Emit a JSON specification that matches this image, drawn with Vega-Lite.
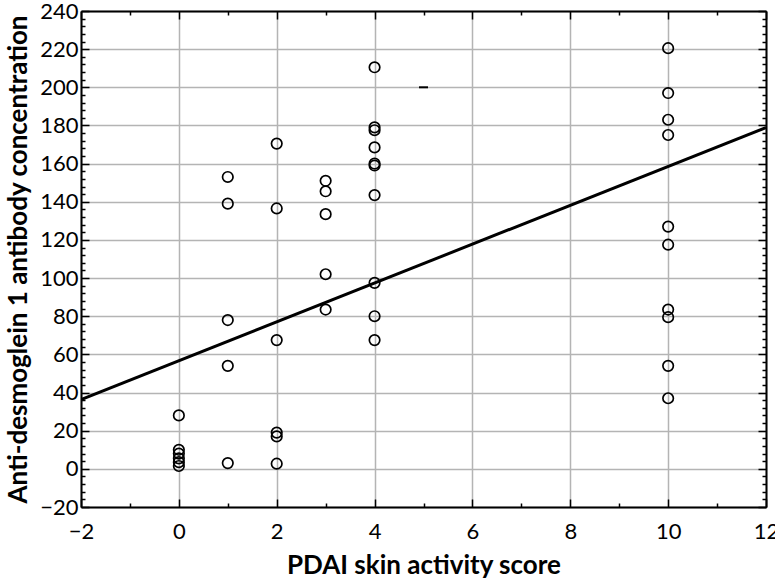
{
  "$schema": "https://vega.github.io/schema/vega-lite/v6.json",
  "width": 685,
  "height": 496,
  "autosize": {"type": "none"},
  "padding": {"left": 81, "top": 11, "right": 9, "bottom": 77},
  "background": "white",
  "config": {
    "view": {"stroke": null},
    "font": "Lato",
    "axis": {
      "domainColor": "black",
      "domainWidth": 2,
      "tickColor": "black",
      "tickWidth": 1.5,
      "gridColor": "#b4b4b4",
      "gridWidth": 1.5,
      "labelFont": "Lato",
      "labelFontSize": 22,
      "labelColor": "black",
      "titleFont": "Lato",
      "titleFontSize": 26,
      "titleFontWeight": "bold",
      "titleColor": "black"
    }
  },
  "datasets": {
    "obs": [
      {"score": 0, "conc": 28},
      {"score": 0, "conc": 10},
      {"score": 0, "conc": 8},
      {"score": 0, "conc": 5.5},
      {"score": 0, "conc": 3.5},
      {"score": 0, "conc": 1.5},
      {"score": 1, "conc": 153},
      {"score": 1, "conc": 139},
      {"score": 1, "conc": 78},
      {"score": 1, "conc": 54},
      {"score": 1, "conc": 3},
      {"score": 2, "conc": 170.5},
      {"score": 2, "conc": 136.5},
      {"score": 2, "conc": 67.5},
      {"score": 2, "conc": 19},
      {"score": 2, "conc": 17},
      {"score": 2, "conc": 2.7},
      {"score": 3, "conc": 151},
      {"score": 3, "conc": 145.5},
      {"score": 3, "conc": 133.5},
      {"score": 3, "conc": 102},
      {"score": 3, "conc": 83.5},
      {"score": 4, "conc": 210.5},
      {"score": 4, "conc": 179},
      {"score": 4, "conc": 177.5},
      {"score": 4, "conc": 168.5},
      {"score": 4, "conc": 160},
      {"score": 4, "conc": 159},
      {"score": 4, "conc": 143.5},
      {"score": 4, "conc": 97.5},
      {"score": 4, "conc": 80},
      {"score": 4, "conc": 67.5},
      {"score": 10, "conc": 220.5},
      {"score": 10, "conc": 197},
      {"score": 10, "conc": 183},
      {"score": 10, "conc": 175},
      {"score": 10, "conc": 127},
      {"score": 10, "conc": 117.5},
      {"score": 10, "conc": 83.5},
      {"score": 10, "conc": 79.5},
      {"score": 10, "conc": 54},
      {"score": 10, "conc": 37}
    ],
    "fit": [
      {"score": -2, "conc": 36.3},
      {"score": 12, "conc": 178.9}
    ],
    "marker": [
      {"score": 5, "conc": 200}
    ]
  },
  "layer": [
    {
      "data": {"name": "obs"},
      "mark": {"type": "point", "shape": "circle", "filled": false, "stroke": "black", "strokeWidth": 1.7, "size": 110, "opacity": 1},
      "encoding": {
        "x": {
          "field": "score", "type": "quantitative",
          "scale": {"domain": [-2, 12], "nice": false, "zero": false},
          "axis": {
            "orient": "bottom",
            "title": "PDAI skin activity score",
            "values": [-2, -1, 0, 1, 2, 3, 4, 5, 6, 7, 8, 9, 10, 11, 12],
            "labelExpr": "datum.value % 2 === 0 ? datum.label : ''",
            "tickSize": {"condition": {"test": "datum.value % 2 === 0", "value": -8}, "value": -4},
            "gridOpacity": {"condition": {"test": "datum.value % 2 === 0", "value": 1}, "value": 0},
            "grid": true,
            "labelPadding": 22,
            "titlePadding": 10,
            "labelFlush": false
          }
        },
        "y": {
          "field": "conc", "type": "quantitative",
          "scale": {"domain": [-20, 240], "nice": false, "zero": false},
          "axis": {
            "orient": "left",
            "title": "Anti-desmoglein 1 antibody concentration",
            "values": [-20, -16, -12, -8, -4, 0, 4, 8, 12, 16, 20, 24, 28, 32, 36, 40, 44, 48, 52, 56, 60, 64, 68, 72, 76, 80, 84, 88, 92, 96, 100, 104, 108, 112, 116, 120, 124, 128, 132, 136, 140, 144, 148, 152, 156, 160, 164, 168, 172, 176, 180, 184, 188, 192, 196, 200, 204, 208, 212, 216, 220, 224, 228, 232, 236, 240],
            "labelExpr": "datum.value % 20 === 0 ? datum.label : ''",
            "tickSize": {"condition": {"test": "datum.value % 20 === 0", "value": -8}, "value": -4},
            "gridOpacity": {"condition": {"test": "datum.value % 20 === 0", "value": 1}, "value": 0},
            "grid": true,
            "labelPadding": 11,
            "titlePadding": 8,
            "labelFlush": false
          }
        }
      }
    },
    {
      "data": {"name": "fit"},
      "mark": {"type": "line", "color": "black", "strokeWidth": 3, "clip": true},
      "encoding": {
        "x": {
          "field": "score", "type": "quantitative",
          "axis": {
            "orient": "top",
            "title": null,
            "labels": false,
            "grid": false,
            "values": [-2, -1, 0, 1, 2, 3, 4, 5, 6, 7, 8, 9, 10, 11, 12],
            "tickSize": {"condition": {"test": "datum.value % 2 === 0", "value": -8}, "value": -4}
          }
        },
        "y": {
          "field": "conc", "type": "quantitative",
          "axis": {
            "orient": "right",
            "title": null,
            "labels": false,
            "grid": false,
            "values": [-20, -16, -12, -8, -4, 0, 4, 8, 12, 16, 20, 24, 28, 32, 36, 40, 44, 48, 52, 56, 60, 64, 68, 72, 76, 80, 84, 88, 92, 96, 100, 104, 108, 112, 116, 120, 124, 128, 132, 136, 140, 144, 148, 152, 156, 160, 164, 168, 172, 176, 180, 184, 188, 192, 196, 200, 204, 208, 212, 216, 220, 224, 228, 232, 236, 240],
            "tickSize": {"condition": {"test": "datum.value % 20 === 0", "value": -8}, "value": -4}
          }
        }
      }
    },
    {
      "data": {"name": "marker"},
      "mark": {"type": "point", "shape": "stroke", "filled": false, "stroke": "black", "strokeWidth": 2, "size": 81, "opacity": 1},
      "encoding": {
        "x": {"field": "score", "type": "quantitative", "axis": null},
        "y": {"field": "conc", "type": "quantitative", "axis": null}
      }
    }
  ],
  "resolve": {"axis": {"x": "independent", "y": "independent"}}
}
